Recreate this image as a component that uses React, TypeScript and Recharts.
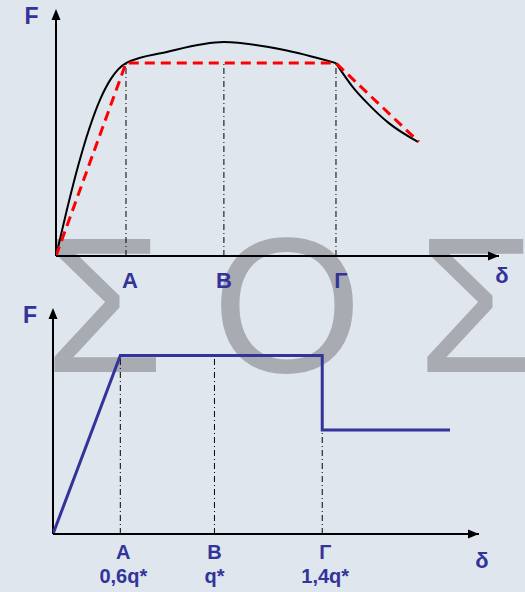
import React from "react";
import { ComposedChart, Line, XAxis, YAxis, ReferenceLine, ReferenceDot } from "recharts";

// x positions of the marked points (share of the drawn δ axis, 0..100)
const pointX = [15.8, 37.9, 63.2];
const pointNames = ["A", "B", "Γ"];
const qLabels = ["0,6q*", "q*", "1,4q*"];

// top panel: measured curve, split at Γ where it kinks
const riseX = [0, 2.5, 5, 7.5, 10, 12.5, 15.8, 25, 37.9, 51, 63.2];
const riseF = [0, 19, 36.5, 51.5, 63.5, 72, 78.1, 82.6, 86.6, 83.6, 78.1];
const fallX = [63.2, 67, 70.5, 75, 81.7];
const fallF = [78.1, 68.4, 61.5, 54, 46.2];

// top panel: idealised (red dashed)
const idealX = [0, 15.8, 63.2, 81.9];
const idealF = [0, 78.1, 78.1, 46.2];

// bottom panel: model (blue)
const modelX = [0, 15.8, 63.2, 63.2, 93.2];
const modelF = [0, 79, 79, 46, 46];
const modelDropF = 46;

const BLUE = "#333399";
const FONT = "'Liberation Sans', Arial, sans-serif";

const toRows = (xs: number[], ys: number[]) => xs.map((x, i) => ({ x, y: ys[i] }));

const riseData = toRows(riseX, riseF);
const fallData = toRows(fallX, fallF);
const idealData = toRows(idealX, idealF);
const modelData = toRows(modelX, modelF);

const dashDot = "6 3 1 3";

function TopTick(props: any) {
  const { x, y, payload } = props;
  const i = pointX.indexOf(payload.value);
  const shift = [4, 0, 5][i] ?? 0;
  return (
    <text x={x + shift} y={y + 32} textAnchor="middle" fill={BLUE} fontSize={22} fontWeight="bold" fontFamily={FONT}>
      {pointNames[i]}
    </text>
  );
}

function BottomTick(props: any) {
  const { x, y, payload } = props;
  const i = pointX.indexOf(payload.value);
  const shift = [3, 0, 3][i] ?? 0;
  return (
    <g fill={BLUE} fontSize={20} fontWeight="bold" fontFamily={FONT}>
      <text x={x + shift} y={y + 25} textAnchor="middle">{pointNames[i]}</text>
      <text x={x + shift} y={y + 49} textAnchor="middle">{qLabels[i]}</text>
    </g>
  );
}

const rightArrow = (dy: number) => (p: any) => (
  <g>
    <polygon points={`${p.cx},${p.cy} ${p.cx - 11},${p.cy - 4.5} ${p.cx - 11},${p.cy + 4.5}`} fill="#000" />
    <text x={p.cx + 3} y={p.cy + dy} textAnchor="middle" fill={BLUE} fontSize={22} fontWeight="bold" fontFamily={FONT}>
      δ
    </text>
  </g>
);

const upArrow = (dx: number) => (p: any) => (
  <g>
    <polygon points={`${p.cx},${p.cy} ${p.cx - 4.5},${p.cy + 11} ${p.cx + 4.5},${p.cy + 11}`} fill="#000" />
    <text x={p.cx + dx} y={p.cy + 15} textAnchor="middle" fill={BLUE} fontSize={23} fontWeight="bold" fontFamily={FONT}>
      F
    </text>
  </g>
);

export default function App() {
  return (
    <div style={{ position: "absolute", left: 0, top: 0, width: 525, height: 592, background: "#dfe6ee", overflow: "hidden" }}>
      <svg width={525} height={592} style={{ position: "absolute", left: 0, top: 0 }}>
        <g fill="#a8acb2" fontSize={193} fontFamily={FONT} textAnchor="middle">
          <text x={104} y={372}>Σ</text>
          <text x={287} y={372}>Ο</text>
          <text x={477} y={372}>Σ</text>
        </g>
      </svg>

      <div style={{ position: "absolute", left: 0, top: 0 }}>
        <ComposedChart width={525} height={300} margin={{ top: 9, right: 26, bottom: 0, left: 56 }}>
          <XAxis
            type="number"
            dataKey="x"
            domain={[0, 100]}
            ticks={pointX}
            height={44}
            tickSize={0}
            tickMargin={0}
            tickLine={false}
            axisLine={{ stroke: "#000", strokeWidth: 2 }}
            tick={<TopTick />}
            allowDataOverflow
          />
          <YAxis type="number" dataKey="y" domain={[0, 100]} hide allowDataOverflow />
          <ReferenceLine segment={[{ x: 0, y: 0 }, { x: 0, y: 96 }]} stroke="#000" strokeWidth={2} />
          {pointX.map((px) => (
            <ReferenceLine key={px} segment={[{ x: px, y: 0 }, { x: px, y: idealF[1] }]} stroke="#000" strokeWidth={1} strokeDasharray={dashDot} />
          ))}
          <Line data={riseData} dataKey="y" type="monotone" stroke="#000" strokeWidth={2} dot={false} activeDot={false} isAnimationActive={false} />
          <Line data={fallData} dataKey="y" type="monotone" stroke="#000" strokeWidth={2} dot={false} activeDot={false} isAnimationActive={false} />
          <Line data={idealData} dataKey="y" type="linear" stroke="#ff0000" strokeWidth={3} strokeDasharray="10 6" dot={false} activeDot={false} isAnimationActive={false} />
          <ReferenceDot x={100} y={0} r={0} shape={rightArrow(27)} />
          <ReferenceDot x={0} y={100} r={0} shape={upArrow(-24.5)} />
        </ComposedChart>
      </div>

      <div style={{ position: "absolute", left: 0, top: 300 }}>
        <ComposedChart width={525} height={292} margin={{ top: 8, right: 46, bottom: 0, left: 53 }}>
          <XAxis
            type="number"
            dataKey="x"
            domain={[0, 100]}
            ticks={pointX}
            height={58}
            tickSize={0}
            tickMargin={0}
            tickLine={false}
            axisLine={{ stroke: "#000", strokeWidth: 2 }}
            tick={<BottomTick />}
            allowDataOverflow
          />
          <YAxis type="number" dataKey="y" domain={[0, 100]} hide allowDataOverflow />
          <ReferenceLine segment={[{ x: 0, y: 0 }, { x: 0, y: 96 }]} stroke="#000" strokeWidth={2} />
          {pointX.map((px, i) => (
            <ReferenceLine
              key={px}
              segment={[{ x: px, y: 0 }, { x: px, y: i === 2 ? modelDropF : modelF[1] }]}
              stroke="#000"
              strokeWidth={1}
              strokeDasharray={dashDot}
            />
          ))}
          <Line data={modelData} dataKey="y" type="linear" stroke={BLUE} strokeWidth={3} dot={false} activeDot={false} isAnimationActive={false} />
          <ReferenceDot x={100} y={0} r={0} shape={rightArrow(34)} />
          <ReferenceDot x={0} y={100} r={0} shape={upArrow(-23)} />
        </ComposedChart>
      </div>
    </div>
  );
}
